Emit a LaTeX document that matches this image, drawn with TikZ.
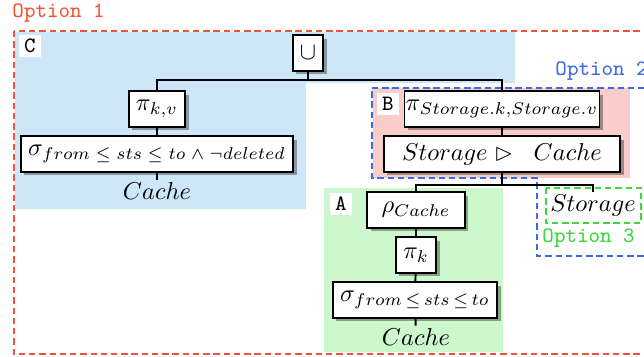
\documentclass[tikz,border=0pt]{standalone}
\usepackage{amssymb}
\usetikzlibrary{shadows}
\definecolor{optred}{HTML}{F0553A}
\definecolor{optblue}{HTML}{3C6AE6}
\definecolor{optgreen}{HTML}{3CD83C}
\definecolor{regC}{HTML}{CDE7F9}
\definecolor{regB}{HTML}{F9CDC9}
\definecolor{regA}{HTML}{CDF7CD}
\tikzset{
  opbox/.style={draw, line width=0.8pt, fill=white, minimum height=14.5pt, inner xsep=3pt, inner ysep=2pt,
    drop shadow={shadow xshift=1.4pt, shadow yshift=-1.4pt, opacity=.35, fill=black}},
  reltext/.style={inner sep=1pt},
  optlabel/.style={font=\small\ttfamily, inner sep=0pt, anchor=west},
  reglabel/.style={fill=white, font=\small\ttfamily, minimum size=9pt, inner sep=0pt},
  optframe/.style={line width=0.8pt, dash pattern=on 2.6pt off 1.6pt},
  conn/.style={line width=0.8pt}
}
\begin{document}
\begin{tikzpicture}[x=0.41pt, y=-0.41pt]
\useasboundingbox (0,0) rectangle (644,356);
% regions
\fill[regC] (15,32) -- (515,32) -- (515,83) -- (306,83) -- (306,209) -- (15,209) -- cycle;
\fill[regB] (373,88) rectangle (630,178);
\fill[regA] (324,188) rectangle (503,352);
% option frames
\draw[optframe, optred] (14,31) rectangle (680,354);
\draw[optframe, optblue] (372,88) -- (680,88) -- (680,256) -- (537,256) -- (537,178) -- (372,178) -- cycle;
\draw[optframe, optgreen] (546,188) rectangle (641,223);
\node[optlabel, text=optred] (o1) at (12,13) {Option 1};
\node[optlabel, text=optblue] (o2) at (555,71) {Option 2};
\node[optlabel, text=optgreen] (o3) at (542,238) {Option 3};
% region labels
\node[reglabel] (lc) at (30,46) {C};
\node[reglabel] (lb) at (388,104) {B};
\node[reglabel] (la) at (341,204) {A};
% operators
\node[opbox, minimum width=11.5pt] (union) at (308,53) {$\cup$};
\node[opbox] (pkv) at (157,109) {$\pi_{k,v}$};
\node[opbox] (selC) at (157,154) {$\sigma_{from\;\leq\;sts\;\leq\;to\;\wedge\;\neg deleted}$};
\node[reltext] (cacheC) at (157,191) {$Cache$};
\node[opbox, inner xsep=0.5pt] (pS) at (502,109) {$\pi_{Storage.k,Storage.v}$};
\node[opbox, minimum width=97pt] (semi) at (502,154) {$Storage \vartriangleright\;\; Cache$};
\node[opbox, minimum width=40pt] (rho) at (416,210) {$\rho_{Cache}$};
\node[opbox] (pk) at (416,255) {$\pi_k$};
\node[opbox] (selA) at (415,300) {$\sigma_{from\,\leq\,sts\,\leq\,to}$};
\node[reltext] (cacheA) at (416,337) {$Cache$};
\node[reltext] (storage) at (593,206) {$Storage$};
% connectors
\draw[conn] (union.south) -- ++(0,8) -| (pkv.north);
\draw[conn] (union.south) -- ++(0,8) -| (pS.north);
\draw[conn] (pkv) -- (selC);
\draw[conn] (selC) -- (cacheC);
\draw[conn] (pS) -- (semi);
\draw[conn] (semi.south) -- ++(0,12) -| (rho.north);
\draw[conn] (semi.south) -- ++(0,12) -| (storage.north);
\draw[conn] (rho) -- (pk);
\draw[conn] (pk) -- (selA);
\draw[conn] (selA) -- (cacheA);
\end{tikzpicture}
\end{document}
